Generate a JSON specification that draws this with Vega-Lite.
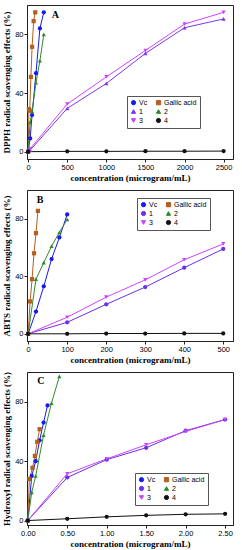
{
  "$schema": "https://vega.github.io/schema/vega-lite/v6.json",
  "padding": {"top": 4, "left": 2, "right": 4, "bottom": 2},
  "background": "white",
  "spacing": 6,
  "datasets": {
    "dpph": [
      {"series": "Vc", "x": 0, "y": 0}, {"series": "Vc", "x": 25, "y": 9}, {"series": "Vc", "x": 50, "y": 25}, {"series": "Vc", "x": 100, "y": 53.5}, {"series": "Vc", "x": 150, "y": 84}, {"series": "Vc", "x": 200, "y": 95},
      {"series": "Gallic acid", "x": 0, "y": 0}, {"series": "Gallic acid", "x": 10, "y": 29}, {"series": "Gallic acid", "x": 20, "y": 28}, {"series": "Gallic acid", "x": 35, "y": 51}, {"series": "Gallic acid", "x": 50, "y": 71.5}, {"series": "Gallic acid", "x": 70, "y": 89}, {"series": "Gallic acid", "x": 90, "y": 95},
      {"series": "1", "x": 0, "y": 0}, {"series": "1", "x": 25, "y": 1}, {"series": "1", "x": 500, "y": 29.5}, {"series": "1", "x": 1000, "y": 46.5}, {"series": "1", "x": 1500, "y": 67}, {"series": "1", "x": 2000, "y": 84.5}, {"series": "1", "x": 2500, "y": 90.5},
      {"series": "2", "x": 0, "y": 0}, {"series": "2", "x": 25, "y": 20}, {"series": "2", "x": 50, "y": 27.5}, {"series": "2", "x": 100, "y": 47}, {"series": "2", "x": 150, "y": 62}, {"series": "2", "x": 200, "y": 80},
      {"series": "3", "x": 0, "y": 0}, {"series": "3", "x": 25, "y": 2}, {"series": "3", "x": 500, "y": 32.5}, {"series": "3", "x": 1000, "y": 51}, {"series": "3", "x": 1500, "y": 69}, {"series": "3", "x": 2000, "y": 87}, {"series": "3", "x": 2500, "y": 95},
      {"series": "4", "x": 0, "y": 0}, {"series": "4", "x": 500, "y": 0.2}, {"series": "4", "x": 1000, "y": 0.2}, {"series": "4", "x": 1500, "y": 0.3}, {"series": "4", "x": 2000, "y": 0.3}, {"series": "4", "x": 2500, "y": 0.4}
    ],
    "abts": [
      {"series": "Vc", "x": 0, "y": 0}, {"series": "Vc", "x": 20, "y": 15.5}, {"series": "Vc", "x": 40, "y": 33}, {"series": "Vc", "x": 60, "y": 52}, {"series": "Vc", "x": 80, "y": 67}, {"series": "Vc", "x": 100, "y": 83},
      {"series": "Gallic acid", "x": 0, "y": 0}, {"series": "Gallic acid", "x": 5, "y": 22.5}, {"series": "Gallic acid", "x": 10, "y": 38}, {"series": "Gallic acid", "x": 15, "y": 56}, {"series": "Gallic acid", "x": 20, "y": 70}, {"series": "Gallic acid", "x": 25, "y": 85.5},
      {"series": "1", "x": 0, "y": 0}, {"series": "1", "x": 100, "y": 8}, {"series": "1", "x": 200, "y": 20.5}, {"series": "1", "x": 300, "y": 32.5}, {"series": "1", "x": 400, "y": 46}, {"series": "1", "x": 500, "y": 59},
      {"series": "2", "x": 0, "y": 0}, {"series": "2", "x": 20, "y": 38}, {"series": "2", "x": 40, "y": 49.5}, {"series": "2", "x": 60, "y": 61}, {"series": "2", "x": 80, "y": 70.5}, {"series": "2", "x": 100, "y": 79.5},
      {"series": "3", "x": 0, "y": 0}, {"series": "3", "x": 100, "y": 11.5}, {"series": "3", "x": 200, "y": 25.5}, {"series": "3", "x": 300, "y": 37.5}, {"series": "3", "x": 400, "y": 51.5}, {"series": "3", "x": 500, "y": 62.5},
      {"series": "4", "x": 0, "y": 0}, {"series": "4", "x": 100, "y": 0}, {"series": "4", "x": 200, "y": 0.2}, {"series": "4", "x": 300, "y": 0.2}, {"series": "4", "x": 400, "y": 0.3}, {"series": "4", "x": 500, "y": 0.3}
    ],
    "oh": [
      {"series": "Vc", "x": 0, "y": 0}, {"series": "Vc", "x": 0.05, "y": 30}, {"series": "Vc", "x": 0.1, "y": 40}, {"series": "Vc", "x": 0.15, "y": 54}, {"series": "Vc", "x": 0.2, "y": 66}, {"series": "Vc", "x": 0.25, "y": 77.5},
      {"series": "Gallic acid", "x": 0, "y": 0}, {"series": "Gallic acid", "x": 0.02, "y": 28}, {"series": "Gallic acid", "x": 0.06, "y": 35.5}, {"series": "Gallic acid", "x": 0.09, "y": 43.5}, {"series": "Gallic acid", "x": 0.12, "y": 53}, {"series": "Gallic acid", "x": 0.15, "y": 61.5},
      {"series": "1", "x": 0, "y": 0}, {"series": "1", "x": 0.5, "y": 29}, {"series": "1", "x": 1.0, "y": 41}, {"series": "1", "x": 1.5, "y": 49}, {"series": "1", "x": 2.0, "y": 60.5}, {"series": "1", "x": 2.5, "y": 68},
      {"series": "2", "x": 0, "y": 0}, {"series": "2", "x": 0.05, "y": 19}, {"series": "2", "x": 0.1, "y": 30}, {"series": "2", "x": 0.2, "y": 57.5}, {"series": "2", "x": 0.3, "y": 79}, {"series": "2", "x": 0.4, "y": 97},
      {"series": "3", "x": 0, "y": 0}, {"series": "3", "x": 0.5, "y": 31.5}, {"series": "3", "x": 1.0, "y": 41.5}, {"series": "3", "x": 1.5, "y": 51}, {"series": "3", "x": 2.0, "y": 60}, {"series": "3", "x": 2.5, "y": 68},
      {"series": "4", "x": 0, "y": 0}, {"series": "4", "x": 0.5, "y": 1.2}, {"series": "4", "x": 1.0, "y": 2.5}, {"series": "4", "x": 1.5, "y": 3.5}, {"series": "4", "x": 2.0, "y": 4.2}, {"series": "4", "x": 2.5, "y": 4.5}
    ]
  },
  "resolve": {
    "scale": {"x": "independent", "y": "independent", "color": "independent", "shape": "independent"},
    "legend": {"color": "independent", "shape": "independent"}
  },
  "vconcat": [
    {
      "width": 206, "height": 154,
      "layer": [
        {
          "data": {"name": "dpph"},
          "mark": {"type": "line", "strokeWidth": 1, "point": {"filled": true, "size": 18}},
          "encoding": {
            "x": {"field": "x", "type": "quantitative", "scale": {"domain": [-15, 2620], "nice": false, "zero": false},
                  "axis": {"title": "concentration (microgram/mL)", "values": [0, 250, 500, 750, 1000, 1250, 1500, 1750, 2000, 2250, 2500], "labelExpr": "datum.value % 500 == 0 ? datum.label : ''", "format": "d"}},
            "y": {"field": "y", "type": "quantitative", "scale": {"domain": [-5, 100], "nice": false, "zero": false},
                  "axis": {"title": "DPPH radical scavenging effects (%)", "values": [0, 10, 20, 30, 40, 50, 60, 70, 80, 90, 100]}},
            "color": {"field": "series", "type": "nominal",
                      "scale": {"domain": ["Vc", "1", "3", "Gallic acid", "2", "4"], "range": ["#1818f0", "#7a38ec", "#cc44ff", "#b4601e", "#2f8a2f", "#111111"]},
                      "legend": {"title": null, "orient": "none", "legendX": 100, "legendY": 91, "columns": 2}},
            "shape": {"field": "series", "type": "nominal",
                      "scale": {"domain": ["Vc", "1", "3", "Gallic acid", "2", "4"], "range": ["circle", "triangle-up", "triangle-down", "square", "triangle-up", "circle"]},
                      "legend": {"title": null, "orient": "none", "legendX": 100, "legendY": 91, "columns": 2}}
          }
        },
        {
          "data": {"values": [{"label": "A"}]},
          "mark": {"type": "text", "font": "Liberation Serif", "fontWeight": "bold", "fontSize": 10, "align": "left", "baseline": "middle"},
          "encoding": {"x": {"datum": 300}, "y": {"datum": 93}, "text": {"field": "label"}}
        }
      ]
    },
    {
      "width": 206, "height": 151,
      "layer": [
        {
          "data": {"name": "abts"},
          "mark": {"type": "line", "strokeWidth": 1, "point": {"filled": true, "size": 18}},
          "encoding": {
            "x": {"field": "x", "type": "quantitative", "scale": {"domain": [-3, 525], "nice": false, "zero": false},
                  "axis": {"title": "concentration (microgram/mL)", "values": [0, 50, 100, 150, 200, 250, 300, 350, 400, 450, 500], "format": "d"}},
            "y": {"field": "y", "type": "quantitative", "scale": {"domain": [-5, 100], "nice": false, "zero": false},
                  "axis": {"title": "ABTS radical scavenging effects (%)", "values": [0, 10, 20, 30, 40, 50, 60, 70, 80, 90, 100]}},
            "color": {"field": "series", "type": "nominal",
                      "scale": {"domain": ["Vc", "1", "3", "Gallic acid", "2", "4"], "range": ["#1818f0", "#6a30ea", "#cc44ff", "#b4601e", "#2f8a2f", "#111111"]},
                      "legend": {"title": null, "orient": "none", "legendX": 110, "legendY": 8, "columns": 2}},
            "shape": {"field": "series", "type": "nominal",
                      "scale": {"domain": ["Vc", "1", "3", "Gallic acid", "2", "4"], "range": ["circle", "circle", "triangle-down", "square", "triangle-up", "circle"]},
                      "legend": {"title": null, "orient": "none", "legendX": 110, "legendY": 8, "columns": 2}}
          }
        },
        {
          "data": {"values": [{"label": "B"}]},
          "mark": {"type": "text", "font": "Liberation Serif", "fontWeight": "bold", "fontSize": 10, "align": "left", "baseline": "middle"},
          "encoding": {"x": {"datum": 22}, "y": {"datum": 93}, "text": {"field": "label"}}
        }
      ]
    },
    {
      "width": 206, "height": 153,
      "layer": [
        {
          "data": {"name": "oh"},
          "mark": {"type": "line", "strokeWidth": 1, "point": {"filled": true, "size": 18}},
          "encoding": {
            "x": {"field": "x", "type": "quantitative", "scale": {"domain": [-0.01, 2.6], "nice": false, "zero": false},
                  "axis": {"title": "concentration (microgram/mL)", "values": [0, 0.25, 0.5, 0.75, 1, 1.25, 1.5, 1.75, 2, 2.25, 2.5], "format": ".2f"}},
            "y": {"field": "y", "type": "quantitative", "scale": {"domain": [-3, 100], "nice": false, "zero": false},
                  "axis": {"title": "Hydroxyl radical scavenging effects (%)", "values": [0, 10, 20, 30, 40, 50, 60, 70, 80, 90, 100]}},
            "color": {"field": "series", "type": "nominal",
                      "scale": {"domain": ["Vc", "1", "3", "Gallic acid", "2", "4"], "range": ["#1818f0", "#6a30ea", "#cc44ff", "#b4601e", "#2f8a2f", "#111111"]},
                      "legend": {"title": null, "orient": "none", "legendX": 108, "legendY": 101, "columns": 2}},
            "shape": {"field": "series", "type": "nominal",
                      "scale": {"domain": ["Vc", "1", "3", "Gallic acid", "2", "4"], "range": ["circle", "circle", "triangle-down", "square", "triangle-up", "circle"]},
                      "legend": {"title": null, "orient": "none", "legendX": 108, "legendY": 101, "columns": 2}}
          }
        },
        {
          "data": {"values": [{"label": "C"}]},
          "mark": {"type": "text", "font": "Liberation Serif", "fontWeight": "bold", "fontSize": 10, "align": "left", "baseline": "middle"},
          "encoding": {"x": {"datum": 0.12}, "y": {"datum": 94}, "text": {"field": "label"}}
        }
      ]
    }
  ],
  "config": {
    "view": {"stroke": "#222", "strokeWidth": 1},
    "axis": {
      "grid": false, "domainColor": "#222", "tickColor": "#222", "tickSize": 3,
      "labelFont": "Liberation Sans", "labelFontSize": 7.5, "labelColor": "#000", "labelPadding": 1,
      "labelOverlap": false, "labelFlush": false, "labelSeparation": 0,
      "titleFont": "Liberation Serif", "titleFontWeight": "bold", "titleFontSize": 9, "titleColor": "#000", "titlePadding": 3
    },
    "legend": {
      "strokeColor": "#555", "fillColor": "white", "padding": 3, "labelFont": "Liberation Sans", "labelFontSize": 7,
      "symbolSize": 18, "rowPadding": 0, "columnPadding": 6, "labelOffset": 2, "symbolStrokeWidth": 1, "cornerRadius": 0
    }
  }
}
